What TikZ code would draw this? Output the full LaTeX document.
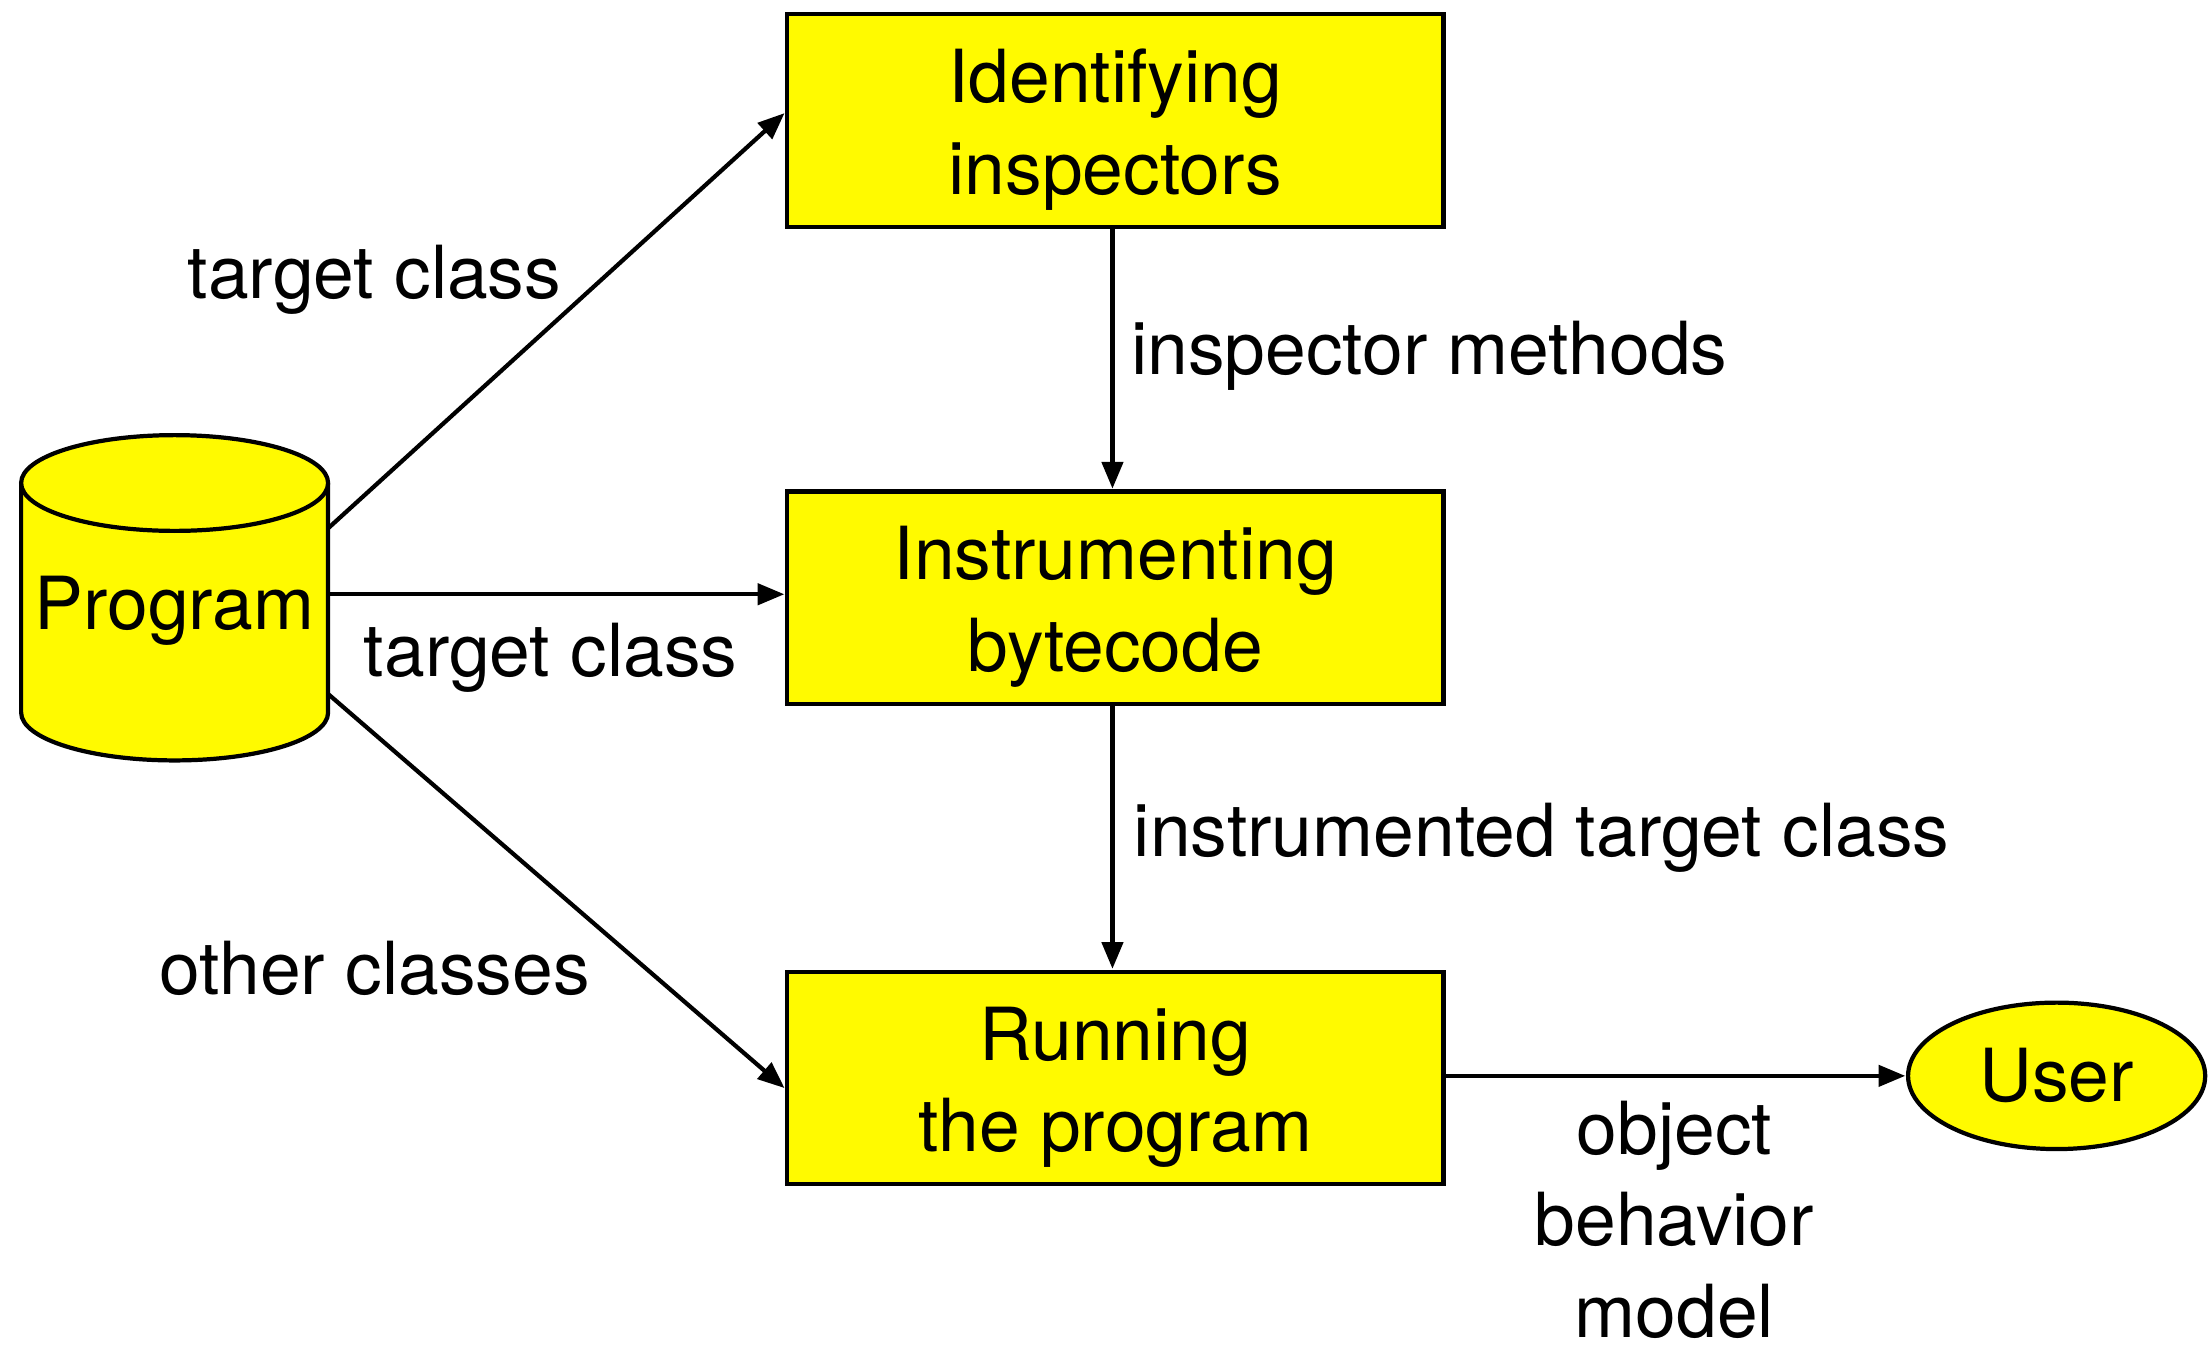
\documentclass[tikz,border=0pt]{standalone}
\usepackage{fontspec}
\setmainfont{TeX Gyre Heros}
\usetikzlibrary{arrows.meta,shapes.geometric,calc}
\definecolor{boxyellow}{RGB}{255,250,0}
\begin{document}
\begin{tikzpicture}[x=1pt,y=-1pt,
  lbl/.style={font=\fontsize{52}{65}\selectfont, inner sep=0pt, align=center},
  procbox/.style={draw, line width=3pt, fill=boxyellow, minimum width=466pt, minimum height=151pt, inner sep=0pt, align=center, font=\fontsize{52}{65}\selectfont},
  conn/.style={line width=3pt, -{Triangle[length=19pt,width=15pt]}, shorten >=0.5pt}
]
\useasboundingbox (0,0) rectangle (1568,956);

% boxes
\node[procbox] (ident) at (792,85.5) {};
\node[procbox] (instr) at (792,424.5) {};
\node[procbox] (run) at (792,765.5) {};
\node[lbl] (identtxt) at (792,92) {Identifying\\inspectors};
\node[lbl] (instrtxt) at (792,431) {Instrumenting\\bytecode};
\node[lbl] (runtxt) at (792,772) {Running\\the program};

% cylinder
\fill[boxyellow] (15,343) -- (15,506) arc[start angle=180,end angle=0,x radius=109,y radius=34] -- (233,343) -- cycle;
\draw[line width=3pt] (15,343) -- (15,506) arc[start angle=180,end angle=0,x radius=109,y radius=34] -- (233,343);
\draw[line width=3pt, fill=boxyellow] (124,343) ellipse[x radius=109, y radius=34];
\node[minimum width=218pt, minimum height=231pt, inner sep=0pt] (prog) at (124,424.5) {};
\node[lbl] (progtxt) at (124,434) {Program};

% user
\node[draw, ellipse, line width=3pt, fill=boxyellow, minimum width=211pt, minimum height=104pt, inner sep=0pt, font=\fontsize{52}{65}\selectfont] (user) at (1460.5,764) {User};

% connectors
\draw[conn] ([yshift=49.5pt]prog.east) -- ([yshift=5.5pt]ident.west);
\draw[conn] ([yshift=2.5pt]prog.east) -- ([yshift=2.5pt]instr.west);
\draw[conn] ([yshift=-68.5pt]prog.east) -- ([yshift=-7.5pt]run.west);
\draw[conn] ([xshift=-2pt]ident.south) -- ([xshift=-2pt]instr.north);
\draw[conn] ([xshift=-2pt]instr.south) -- ([xshift=-2pt]run.north);
\draw[conn] ([yshift=1.5pt]run.east) -- (user.west);

% labels
\node[lbl] (l1) at (266,199) {target class};
\node[lbl] (l2) at (391,467) {target class};
\node[lbl] (l3) at (266,688) {other classes};
\node[lbl, anchor=west] (l4) at (803,253) {inspector methods};
\node[lbl, anchor=west] (l5) at (805,595) {instrumented target class};
\node[lbl] (l6) at (1189,866) {object\\behavior\\model};
\end{tikzpicture}
\end{document}
